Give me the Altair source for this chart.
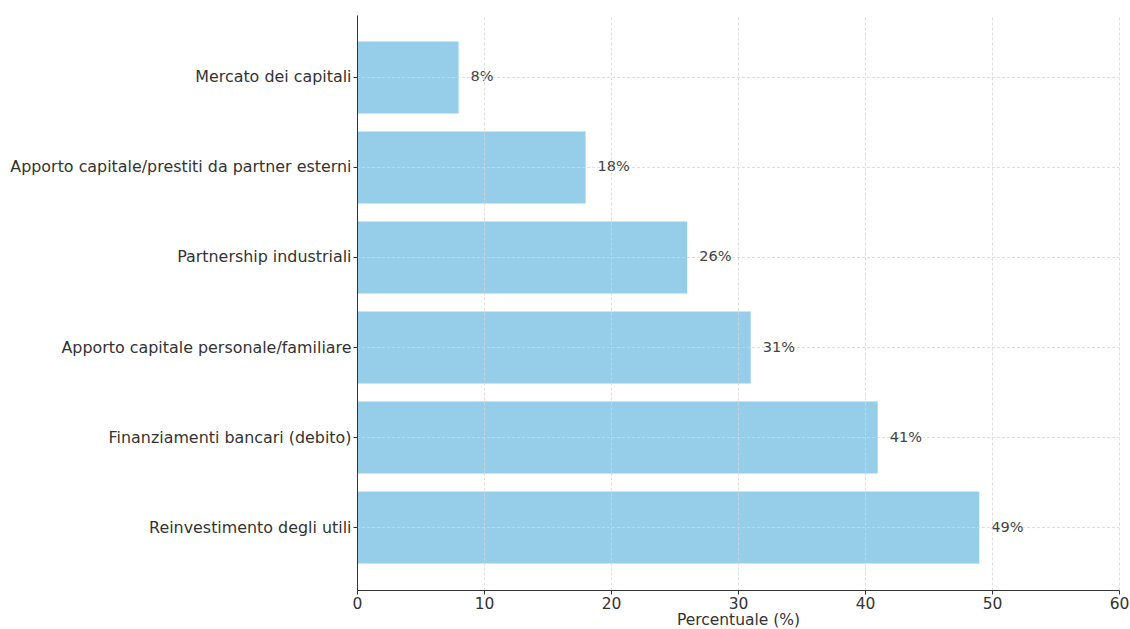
import altair as alt
import pandas as pd

categories = [
    "Mercato dei capitali",
    "Apporto capitale/prestiti da partner esterni",
    "Partnership industriali",
    "Apporto capitale personale/familiare",
    "Finanziamenti bancari (debito)",
    "Reinvestimento degli utili",
]
values = [8, 18, 26, 31, 41, 49]
labels = [f"{v}%" for v in values]

df = pd.DataFrame({"cat": categories, "val": values, "lab": labels})

FONT = "DejaVu Sans"
GRID = "#d6d6d6"

yscale = alt.Scale(paddingInner=0.2, paddingOuter=0.294)

y = alt.Y(
    "cat:N",
    sort=categories,
    scale=yscale,
    axis=alt.Axis(
        title=None,
        labelFont=FONT,
        labelFontSize=15.9,
        labelColor="#333333",
        labelPadding=2,
        tickSize=4,
        tickColor="#333333",
        domainColor="#333333",
        bandPosition=0.5,
        grid=False,
        zindex=1,
        labelLimit=600,
    ),
)

x = alt.X(
    "val:Q",
    scale=alt.Scale(domain=[0, 60], nice=False),
    axis=alt.Axis(
        title="Percentuale (%)",
        titleFont=FONT,
        titleFontSize=15.5,
        titleFontWeight="normal",
        titleColor="#333333",
        titlePadding=1,
        values=[0, 10, 20, 30, 40, 50, 60],
        labelFont=FONT,
        labelFontSize=15.5,
        labelColor="#333333",
        labelFlush=False,
        tickSize=4,
        tickColor="#333333",
        domainColor="#333333",
        grid=True,
        gridColor=GRID,
        gridDash=[3, 2],
        gridWidth=0.8,
        zindex=1,
    ),
)

bars = alt.Chart(df).mark_bar(color="#96CDE8").encode(x=x, y=y)

hgrid = alt.Chart(df).mark_rule(
    color=GRID, strokeDash=[3, 2], strokeWidth=0.8
).encode(
    y=alt.Y("cat:N", sort=categories),
    x=alt.value(0),
    x2=alt.value(762),
)

text = alt.Chart(df).mark_text(
    align="left", baseline="middle", dx=12, font=FONT, fontSize=14.5, color="#444444"
).encode(x=alt.X("val:Q"), y=alt.Y("cat:N", sort=categories), text="lab:N")

chart = (
    alt.layer(bars, hgrid, text)
    .properties(
        width=762,
        height=575,
        background="white",
        autosize=alt.AutoSizeParams(type="none"),
        padding={"left": 357, "top": 15, "right": 11, "bottom": 39},
    )
    .configure_view(strokeWidth=0, stroke="transparent")
)

chart.save("out.html", embed_options={"renderer": "svg", "actions": False})
